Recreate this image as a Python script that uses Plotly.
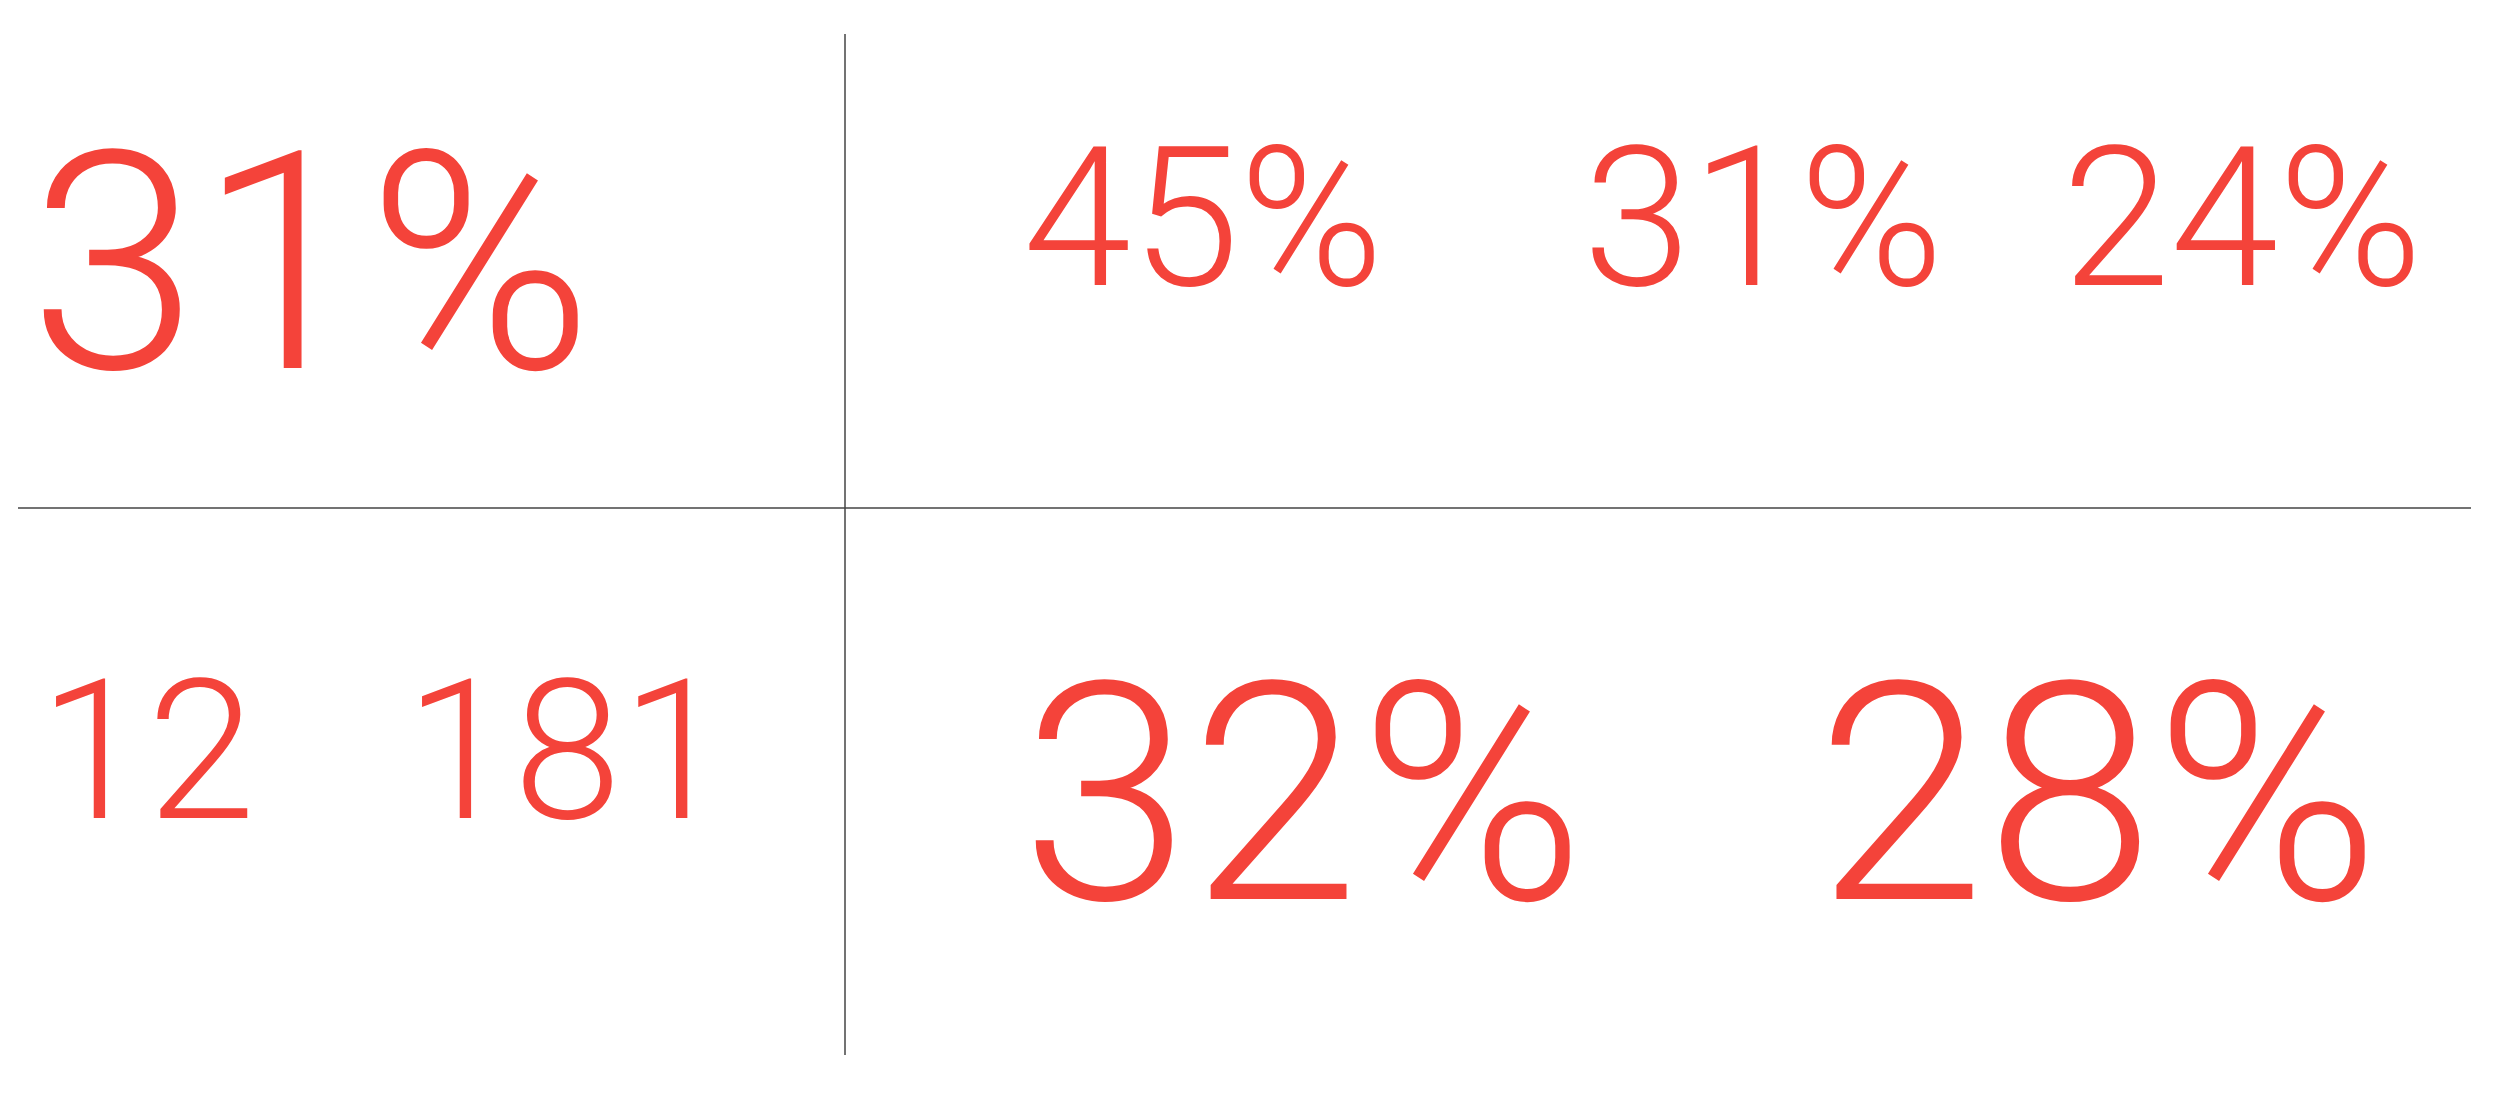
import plotly.graph_objects as go

labels = ["31%", "45%", "31%", "24%", "12", "181", "32%", "28%"]
xs = [19, 1013, 1573, 2052, 29, 395, 1011, 1806]     # left edge, px
ys = [255, 210, 210, 210, 743, 743, 786, 786]       # centre, px
sizes = [305, 195, 195, 195, 195, 195, 305, 305]
W, H = 2498, 1107
RED = "#F4433A"

fig = go.Figure()
for t, x, y, s in zip(labels, xs, ys, sizes):
    fig.add_annotation(text=t, x=x / W, y=1 - y / H, xref="paper", yref="paper",
                       xanchor="left", yanchor="middle", showarrow=False,
                       font=dict(family="Roboto", size=s, color=RED, weight=300))
fig.add_shape(type="line", xref="paper", yref="paper", x0=837 / W, x1=837 / W,
              y0=1 - 26 / H, y1=1 - 1047 / H, line=dict(color="#444", width=1.5))
fig.add_shape(type="line", xref="paper", yref="paper", x0=10 / W, x1=2463 / W,
              y0=1 - 500 / H, y1=1 - 500 / H, line=dict(color="#444", width=1.5))
fig.update_layout(width=2498, height=1107, margin=dict(l=0, r=0, t=0, b=0),
                  paper_bgcolor="white", plot_bgcolor="white",
                  xaxis=dict(visible=False), yaxis=dict(visible=False))
fig.write_html("out.html")
